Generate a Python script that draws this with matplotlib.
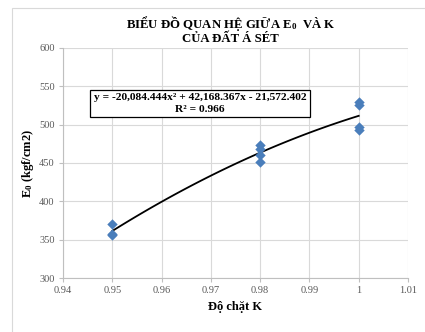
import numpy as np
import matplotlib
matplotlib.use('Agg')
import matplotlib.pyplot as plt
from matplotlib.patches import Rectangle

# data
k_vals = [0.95, 0.95, 0.95, 0.98, 0.98, 0.98, 0.98, 1.00, 1.00, 1.00, 1.00]
e0_vals = [370, 358, 356, 474, 468, 461, 451, 530, 526, 497, 493]
coef = [-20084.444, 42168.367, -21572.402]
eq_text = "y = -20,084.444x² + 42,168.367x - 21,572.402\nR² = 0.966"
x_ticks = [0.94, 0.95, 0.96, 0.97, 0.98, 0.99, 1.00, 1.01]
x_labels = ["0.94", "0.95", "0.96", "0.97", "0.98", "0.99", "1", "1.01"]
y_ticks = [300, 350, 400, 450, 500, 550, 600]

plt.rcParams['font.family'] = 'Liberation Serif'
plt.rcParams['mathtext.fontset'] = 'custom'
plt.rcParams['mathtext.rm'] = 'Liberation Serif:bold'
plt.rcParams['mathtext.bf'] = 'Liberation Serif:bold'
plt.rcParams['mathtext.it'] = 'Liberation Serif:bold'

fig = plt.figure(figsize=(4.25, 3.32), dpi=100)
# outer chart frame
fig.patches.append(Rectangle((12/425, -0.01), 1.0, 1 - 8/332 + 0.01, transform=fig.transFigure,
                             fill=False, edgecolor='#d9d9d9', lw=0.8))
ax = fig.add_axes([63/425, 1 - 278/332, (408 - 63)/425, (278 - 48)/332])

ax.scatter(k_vals, e0_vals, marker='D', s=28, color='#4a7ebb', zorder=3, linewidths=0)
xf = np.linspace(0.95, 1.0, 100)
ax.plot(xf, np.polyval(coef, xf), color='black', lw=1.3, zorder=2)

ax.set_xlim(0.94, 1.01)
ax.set_ylim(300, 600)
ax.set_xticks(x_ticks)
ax.set_xticklabels(x_labels)
ax.set_yticks(y_ticks)
ax.grid(True, color='#d9d9d9', lw=0.8)
ax.set_axisbelow(True)
for s in ['top', 'right']:
    ax.spines[s].set_visible(False)
for s in ['left', 'bottom']:
    ax.spines[s].set_color('#bfbfbf')
    ax.spines[s].set_linewidth(0.8)
ax.tick_params(colors='#bfbfbf', labelcolor='#595959', labelsize=7.5, length=3, width=0.8, pad=3)

ax.text(0.485, 1.012, "BIỂU ĐỒ QUAN HỆ GIỮA E$_0$  VÀ K\nCỦA ĐẤT Á SÉT", transform=ax.transAxes,
        ha='center', va='bottom', fontsize=9.2, fontweight='bold', linespacing=1.0)
ax.set_xlabel("Độ chặt K", fontsize=9, fontweight='bold', labelpad=4)
ax.set_ylabel("E$_0$ (kgf/cm2)", fontsize=9, fontweight='bold', labelpad=2)

ax.text(0.397, 0.759, eq_text, transform=ax.transAxes, ha='center', va='center',
        fontsize=8.2, fontweight='bold', linespacing=1.35,
        bbox=dict(boxstyle='square,pad=0.3', facecolor='white', edgecolor='black', lw=0.9), zorder=4)

plt.savefig('out.png', dpi=100)
